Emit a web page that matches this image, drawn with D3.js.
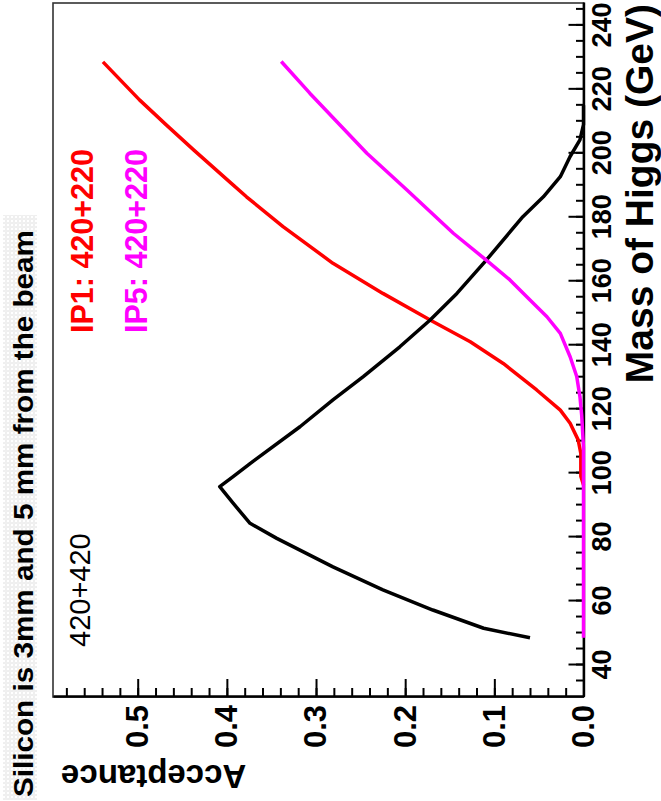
<!DOCTYPE html>
<html>
<head>
<meta charset="utf-8">
<script src="https://cdn.jsdelivr.net/npm/d3@7"></script>
<style>
body { margin: 0; background: #fff; }
svg { display: block; font-family: 'Liberation Sans', Arial, Helvetica, sans-serif; }
</style>
</head>
<body>
<svg id="chart" width="661" height="801"></svg>
<script>
/* global d3 */
const title = 'Silicon is 3mm and 5 mm from the beam';
const xTitle = 'Mass of Higgs (GeV)';
const yTitle = 'Acceptance';

const massTicks = [40, 60, 80, 100, 120, 140, 160, 180, 200, 220, 240];
const accTicks = [0, 0.1, 0.2, 0.3, 0.4, 0.5];

// 420+420 (black)
const mass420420 = [48.5, 51.5, 57.2, 63.5, 70.7, 79.6, 84.3, 90.6, 95.8, 98.9, 103.0, 114.5, 122.9, 130.2, 139.5, 147.9, 156.2, 166.6, 180.2, 186.4, 192.7, 199.0, 204.2, 209, 215];
const acc420420 = [0.060, 0.112, 0.169, 0.225, 0.281, 0.344, 0.374, 0.393, 0.408, 0.393, 0.374, 0.318, 0.281, 0.247, 0.206, 0.172, 0.142, 0.109, 0.068, 0.045, 0.026, 0.015, 0.004, 0.0, 0.0];

// IP1: 420+220 (red)
const massIP1 = [96.3, 99, 106.2, 110.4, 115.6, 119.7, 126.0, 134.3, 141.1, 147.4, 156.2, 165.6, 177.1, 186.4, 190.6, 201.0, 208.9, 216.7, 228.6];
const accIP1 = [0.0, 0.003, 0.003, 0.006, 0.015, 0.026, 0.0525, 0.090, 0.127, 0.169, 0.225, 0.281, 0.337, 0.378, 0.395, 0.437, 0.468, 0.498, 0.539];

// IP5: 420+220 (magenta)
const massIP5 = [48.5, 108, 118, 123.9, 130.2, 136.4, 143.7, 148.9, 154.1, 160.4, 166.6, 175, 188.5, 200, 218.8, 228.7];
const accIP5 = [0, 0, 0.002, 0.004, 0.0076, 0.015, 0.026, 0.041, 0.060, 0.0825, 0.109, 0.146, 0.198, 0.243, 0.307, 0.339];

const svg = d3.select('#chart');

// the plot is laid out as a normal landscape ROOT canvas (801 x 661),
// then the whole thing is turned a quarter turn to the left
const g = svg.append('g').attr('transform', 'translate(0,801) rotate(-90)');

const x = d3.scaleLinear().domain([30, 247]).range([104, 798]);
const y = d3.scaleLinear().domain([0, 0.595]).range([583.5, 53]);

// title pave with the grey stipple
const defs = svg.append('defs');
const pat = defs.append('pattern')
	.attr('id', 'stipple')
	.attr('width', 4).attr('height', 4)
	.attr('patternUnits', 'userSpaceOnUse');
pat.append('circle').attr('cx', 2).attr('cy', 2).attr('r', 1.3)
	.attr('fill', 'none').attr('stroke', '#e0e0e0').attr('stroke-width', 0.8);

g.append('rect')
	.attr('x', 1).attr('y', 3).attr('width', 585).attr('height', 34)
	.attr('fill', 'url(#stipple)');

g.append('text')
	.attr('x', 4).attr('y', 33)
	.attr('font-size', 28).attr('font-weight', 'bold')
	.attr('textLength', 567).attr('lengthAdjust', 'spacingAndGlyphs')
	.text(title);

// frame
g.append('rect')
	.attr('x', x(30)).attr('y', y(0.595))
	.attr('width', x(247) - x(30)).attr('height', y(0) - y(0.595))
	.attr('fill', 'none').attr('stroke', '#333').attr('stroke-width', 1.6);

// mass axis
const massMinor = d3.range(35, 247, 5);
g.append('g')
	.attr('transform', 'translate(0,' + y(0) + ')')
	.call(d3.axisBottom(x).tickValues(massMinor).tickSizeInner(-7.5).tickSizeOuter(0).tickFormat(''))
	.call(a => a.select('.domain').remove());
const xAxis = g.append('g')
	.attr('transform', 'translate(0,' + y(0) + ')')
	.call(d3.axisBottom(x).tickValues(massTicks).tickSizeInner(-15).tickSizeOuter(0).tickPadding(8).tickFormat(d3.format('d')));

// acceptance axis
const accMinor = d3.range(0.02, 0.595, 0.02);
g.append('g')
	.attr('transform', 'translate(' + x(30) + ',0)')
	.call(d3.axisLeft(y).tickValues(accMinor).tickSizeInner(-9).tickSizeOuter(0).tickFormat(''))
	.call(a => a.select('.domain').remove());
const yAxis = g.append('g')
	.attr('transform', 'translate(' + x(30) + ',0)')
	.call(d3.axisLeft(y).tickValues(accTicks).tickSizeInner(-18).tickSizeOuter(0).tickPadding(8).tickFormat(d3.format('.1f')));

g.selectAll('.tick line').attr('stroke', '#000').attr('stroke-width', 2);
[xAxis, yAxis].forEach(a => {
	a.attr('font-family', null).attr('font-size', null);
	a.select('.domain').attr('stroke', '#000').attr('stroke-width', 2.4);
});
xAxis.selectAll('text').attr('font-size', 27).attr('font-weight', 'bold').attr('fill', '#000');
yAxis.selectAll('text').attr('font-size', 31).attr('font-weight', 'bold').attr('fill', '#000');

// axis titles
g.append('text')
	.attr('x', 797).attr('y', 653)
	.attr('text-anchor', 'end')
	.attr('font-size', 39).attr('font-weight', 'bold')
	.text(xTitle);

g.append('text')
	.attr('transform', 'translate(36,61) rotate(-90)')
	.attr('text-anchor', 'end')
	.attr('font-size', 33).attr('font-weight', 'bold')
	.text(yTitle);

// curves
const line = d3.line()
	.x(d => x(d[0]))
	.y(d => y(d[1]));

const curves = [
	{ mass: massIP1, acc: accIP1, color: '#ff0000' },
	{ mass: mass420420, acc: acc420420, color: '#000000' },
	{ mass: massIP5, acc: accIP5, color: '#ff00ff' }
];
curves.forEach(c => {
	g.append('path')
		.datum(d3.zip(c.mass, c.acc))
		.attr('d', line)
		.attr('fill', 'none')
		.attr('stroke', c.color)
		.attr('stroke-width', 3.5)
		.attr('stroke-linejoin', 'round');
});

// labels in the plot
g.append('text').attr('x', 154).attr('y', 90)
	.attr('font-size', 29).attr('fill', '#000')
	.text('420+420');
g.append('text').attr('x', 468).attr('y', 93)
	.attr('font-size', 30.5).attr('font-weight', 'bold').attr('fill', '#ff0000')
	.text('IP1: 420+220');
g.append('text').attr('x', 468).attr('y', 146.7)
	.attr('font-size', 30.5).attr('font-weight', 'bold').attr('fill', '#ff00ff')
	.text('IP5: 420+220');
</script>
</body>
</html>
